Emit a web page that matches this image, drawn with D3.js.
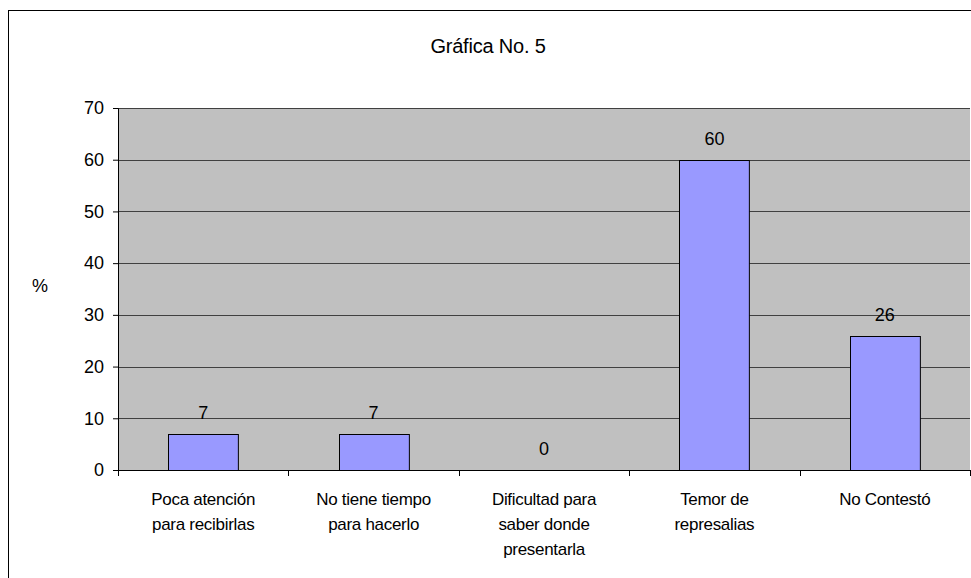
<!DOCTYPE html>
<html>
<head>
<meta charset="utf-8">
<script src="https://cdn.jsdelivr.net/npm/d3@7"></script>
<style>
  body { margin: 0; background: #fff; }
  svg { display: block; font-family: "Liberation Sans", Arial, sans-serif; }
</style>
</head>
<body>
<div id="chart"></div>
<script>
// data
const categories = [
  ["Poca atención", "para recibirlas"],
  ["No tiene tiempo", "para hacerlo"],
  ["Dificultad para", "saber donde", "presentarla"],
  ["Temor de", "represalias"],
  ["No Contestó"]
];
const values = [7, 7, 0, 60, 26];
const yTicks = [0, 10, 20, 30, 40, 50, 60, 70];

const width = 971, height = 578;
const margin = { top: 108, right: 1, bottom: 108, left: 118 };

const svg = d3.select("#chart").append("svg")
  .attr("width", width)
  .attr("height", height);

// outer chart border
svg.append("rect")
  .attr("x", 8.5).attr("y", 10.5)
  .attr("width", 1000).attr("height", 1000)
  .attr("fill", "#fff").attr("stroke", "#000");

svg.append("text")
  .attr("x", 488).attr("y", 53)
  .attr("text-anchor", "middle")
  .attr("font-size", 20)
  .attr("letter-spacing", "-0.2")
  .text("Gráfica No. 5");

const innerW = width - margin.left - margin.right;
const innerH = height - margin.top - margin.bottom;

const x = d3.scaleBand()
  .domain(d3.range(values.length))
  .range([0, innerW])
  .paddingInner(0.59)
  .paddingOuter(0.295);

const y = d3.scaleLinear().domain([0, 70]).range([innerH, 0]);

const g = svg.append("g").attr("transform", `translate(${margin.left},${margin.top})`);

// plot background
g.append("rect")
  .attr("width", innerW).attr("height", innerH)
  .attr("fill", "#c0c0c0");

// gridlines
g.selectAll(".grid")
  .data(yTicks.filter(d => d > 0))
  .join("line")
  .attr("x1", 0).attr("x2", innerW)
  .attr("y1", d => Math.round(y(d)) + 0.5)
  .attr("y2", d => Math.round(y(d)) + 0.5)
  .attr("stroke", "#404040");

// bars
g.selectAll(".bar")
  .data(values)
  .join("rect")
  .attr("x", (d, i) => Math.round(x(i)) + 0.5)
  .attr("y", d => Math.round(y(d)) + 0.5)
  .attr("width", x.bandwidth())
  .attr("height", d => innerH - Math.round(y(d)))
  .attr("fill", "#9999ff")
  .attr("stroke", "#000")
  .attr("stroke-width", d => d > 0 ? 1 : 0);

// value labels
g.selectAll(".val")
  .data(values)
  .join("text")
  .attr("x", (d, i) => x(i) + x.bandwidth() / 2)
  .attr("y", d => y(d) - 15)
  .attr("text-anchor", "middle")
  .attr("font-size", 18)
  .text(d => d);

// y axis
const yAxis = g.append("g")
  .call(d3.axisLeft(y).tickValues(yTicks).tickSize(5).tickPadding(9));
yAxis.select(".domain").attr("stroke", "#000");
yAxis.selectAll("text").attr("font-size", 18).attr("fill", "#000")
  .attr("font-family", "Liberation Sans, Arial, sans-serif");

// x axis line and ticks between categories
const step = innerW / values.length;
g.append("line")
  .attr("x1", 0).attr("x2", innerW)
  .attr("y1", innerH + 0.5).attr("y2", innerH + 0.5)
  .attr("stroke", "#000");
g.selectAll(".xtick")
  .data(d3.range(values.length + 1))
  .join("line")
  .attr("x1", d => Math.round(d * step) + 0.5)
  .attr("x2", d => Math.round(d * step) + 0.5)
  .attr("y1", innerH).attr("y2", innerH + 6)
  .attr("stroke", "#000");

// category labels
g.selectAll(".cat")
  .data(categories)
  .join("text")
  .attr("text-anchor", "middle")
  .attr("font-size", 17)
  .attr("letter-spacing", "-0.3")
  .each(function(lines, i) {
    const t = d3.select(this);
    lines.forEach((l, j) => {
      t.append("tspan")
        .attr("x", x(i) + x.bandwidth() / 2)
        .attr("y", innerH + 35 + j * 25)
        .text(l);
    });
  });

svg.append("text")
  .attr("x", 40).attr("y", 292)
  .attr("text-anchor", "middle")
  .attr("font-size", 18)
  .text("%");
</script>
</body>
</html>
